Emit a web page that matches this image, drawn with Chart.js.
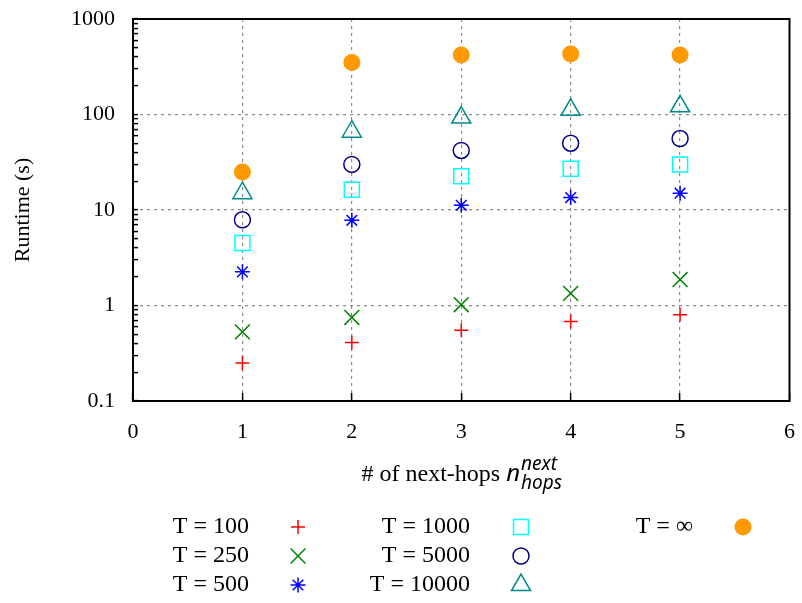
<!DOCTYPE html>
<html>
<head>
<meta charset="utf-8">
<title>Runtime vs next-hops</title>
<script src="https://cdn.jsdelivr.net/npm/chart.js@4.4.1/dist/chart.umd.min.js"></script>
<style>
  html, body { margin: 0; padding: 0; background: #fff; }
  #wrap { position: relative; width: 802px; height: 603px; }
</style>
</head>
<body>
<div id="wrap"><canvas id="runtime-chart"></canvas></div>
<script>
// data
const nextHops = [1, 2, 3, 4, 5];
const runtimeT100 = [0.25, 0.41, 0.55, 0.68, 0.80];
const runtimeT250 = [0.53, 0.75, 1.02, 1.34, 1.87];
const runtimeT500 = [2.25, 7.8, 11.2, 13.5, 15];
const runtimeT1000 = [4.5, 16.3, 22.5, 27, 30];
const runtimeT5000 = [7.9, 30, 42, 50, 56];
const runtimeT10000 = [15, 66, 93, 112, 122];
const runtimeTInf = [25, 350, 420, 430, 420];

const seriesLabels = ['T = 100', 'T = 250', 'T = 500', 'T = 1000', 'T = 5000', 'T = 10000', 'T = \u221e'];
const xTickValues = [0, 1, 2, 3, 4, 5, 6];
const yTickValues = [0.1, 1, 10, 100, 1000];
const yTickLabels = ['0.1', '1', '10', '100', '1000'];

const seriesValues = [runtimeT100, runtimeT250, runtimeT500, runtimeT1000, runtimeT5000, runtimeT10000, runtimeTInf];

// marker look per series (gnuplot style point types)
const markers = [
    { style: 'cross', color: '#ff0000', radius: 7, filled: false },
    { style: 'crossRot', color: '#008000', radius: 10.5, filled: false },
    { style: 'star', color: '#0000ff', radius: 7.5, filled: false },
    { style: 'rect', color: '#00ffff', radius: 10.6, filled: false },
    { style: 'circle', color: '#00008b', radius: 8, filled: false },
    { style: 'triangle', color: '#008b8b', radius: 11, filled: false },
    { style: 'circle', color: '#ff9900', radius: 8.5, filled: true }
];

const datasets = seriesValues.map((values, i) => ({
    label: seriesLabels[i],
    data: values.map((v, j) => ({ x: nextHops[j], y: v })),
    pointStyle: markers[i].style,
    pointRadius: markers[i].radius,
    pointBorderColor: markers[i].color,
    pointBackgroundColor: markers[i].filled ? markers[i].color : 'rgba(0,0,0,0)',
    pointBorderWidth: markers[i].filled ? 0 : 1.5,
    showLine: false
}));

// y ticks: decades plus 2..9 minors in between
function logTicks() {
    const ticks = [];
    for (let d = 0; d < yTickValues.length; d++) {
        const base = yTickValues[d];
        ticks.push({ value: base });
        if (d < yTickValues.length - 1) {
            for (let m = 2; m <= 9; m++) ticks.push({ value: +(base * m).toPrecision(6) });
        }
    }
    return ticks;
}

function isMajor(v) {
    return yTickValues.some(t => Math.abs(t - v) / t < 1e-6);
}

const serif = '"Liberation Serif", "Times New Roman", serif';
const tickSize = 22;
const textSize = 24;

// legend columns / rows as in gnuplot key
const legendTextRight = [249, 470, 693];
const legendSymbolX = [298, 521, 743];
const legendRowY = [527, 556, 585];

const framePlugin = {
    id: 'framePlugin',
    afterDraw(chart) {
        const ctx = chart.ctx;
        const a = chart.chartArea;
        ctx.save();

        // full box around the plot
        ctx.strokeStyle = '#000';
        ctx.lineWidth = 2;
        ctx.strokeRect(a.left, a.top, a.right - a.left, a.bottom - a.top);

        // x axis title with sub/superscript
        const mainText = '# of next-hops ';
        const mainFont = textSize + 'px ' + serif;
        const italFont = 'italic ' + textSize + 'px "Noto Sans", sans-serif';
        const smallFont = 'italic ' + Math.round(textSize * 0.8) + 'px "Noto Sans", sans-serif';
        ctx.textBaseline = 'alphabetic';
        ctx.textAlign = 'left';
        ctx.font = mainFont;
        const w1 = ctx.measureText(mainText).width;
        ctx.font = italFont;
        const w2 = ctx.measureText('n').width;
        ctx.font = smallFont;
        const w3 = Math.max(ctx.measureText('next').width, ctx.measureText('hops').width);
        const baseY = 481;
        let x = (a.left + a.right) / 2 - (w1 + w2 + w3) / 2;
        ctx.fillStyle = '#000';
        ctx.font = mainFont;
        ctx.fillText(mainText, x, baseY);
        x += w1;
        ctx.font = italFont;
        ctx.fillText('n', x, baseY);
        x += w2 + 1;
        ctx.font = smallFont;
        ctx.fillText('next', x, baseY - 11);
        ctx.fillText('hops', x, baseY + 8);

        // key
        chart.data.datasets.forEach((ds, i) => {
            const col = Math.floor(i / 3);
            const row = i % 3;
            ctx.font = mainFont;
            ctx.fillStyle = '#000';
            ctx.textAlign = 'right';
            ctx.textBaseline = 'middle';
            ctx.fillText(ds.label, legendTextRight[col], legendRowY[row]);
            ctx.fillStyle = ds.pointBackgroundColor;
            ctx.strokeStyle = ds.pointBorderColor;
            ctx.lineWidth = ds.pointBorderWidth;
            Chart.helpers.drawPoint(ctx, {
                pointStyle: ds.pointStyle,
                radius: ds.pointRadius,
                rotation: 0,
                borderWidth: ds.pointBorderWidth
            }, legendSymbolX[col], legendRowY[row]);
        });
        ctx.restore();
    }
};

Chart.defaults.font.family = serif;
Chart.defaults.font.size = tickSize;
Chart.defaults.color = '#000';

const ctx = document.getElementById('runtime-chart').getContext('2d');
new Chart(ctx, {
    type: 'scatter',
    data: { datasets: datasets },
    options: {
        responsive: true,
        maintainAspectRatio: false,
        animation: false,
        layout: { padding: { left: 0, right: 7, top: 19, bottom: 0 } },
        plugins: {
            legend: { display: false },
            tooltip: { enabled: false }
        },
        scales: {
            x: {
                type: 'linear',
                min: 0,
                max: 6,
                afterBuildTicks: scale => { scale.ticks = xTickValues.map(v => ({ value: v })); },
                afterFit: scale => {
                    scale.height = 202;
                    scale.paddingLeft = 0;
                    scale.paddingRight = 0;
                },
                ticks: { padding: 26, autoSkip: false, maxRotation: 0 },
                grid: {
                    color: c => (c.tick && c.tick.value > 0 && c.tick.value < 6) ? '#8c8c8c' : 'rgba(0,0,0,0)',
                    lineWidth: 1.2,
                    drawTicks: true,
                    tickLength: -8,
                    tickColor: '#000',
                    tickWidth: 1.5
                },
                border: { display: false, dash: [3, 4] }
            },
            y: {
                type: 'logarithmic',
                min: 0.1,
                max: 1000,
                afterBuildTicks: scale => { scale.ticks = logTicks(); },
                afterFit: scale => {
                    scale.width = 133;
                    scale.paddingTop = 0;
                    scale.paddingBottom = 0;
                },
                ticks: {
                    padding: 23,
                    autoSkip: false,
                    callback: value => {
                        const k = yTickValues.findIndex(t => Math.abs(t - value) / t < 1e-6);
                        return k >= 0 ? yTickLabels[k] : '';
                    }
                },
                grid: {
                    color: c => (c.tick && isMajor(c.tick.value) && c.tick.value > 0.1 && c.tick.value < 1000) ? '#8c8c8c' : 'rgba(0,0,0,0)',
                    lineWidth: 1.2,
                    drawTicks: true,
                    tickLength: -5,
                    tickColor: '#000',
                    tickWidth: 1.5
                },
                border: { display: false, dash: [3, 4] },
                title: {
                    display: true,
                    text: 'Runtime (s)',
                    padding: { top: 10, bottom: 0 },
                    font: { size: 22 }
                }
            }
        }
    },
    plugins: [framePlugin]
});
</script>
</body>
</html>
